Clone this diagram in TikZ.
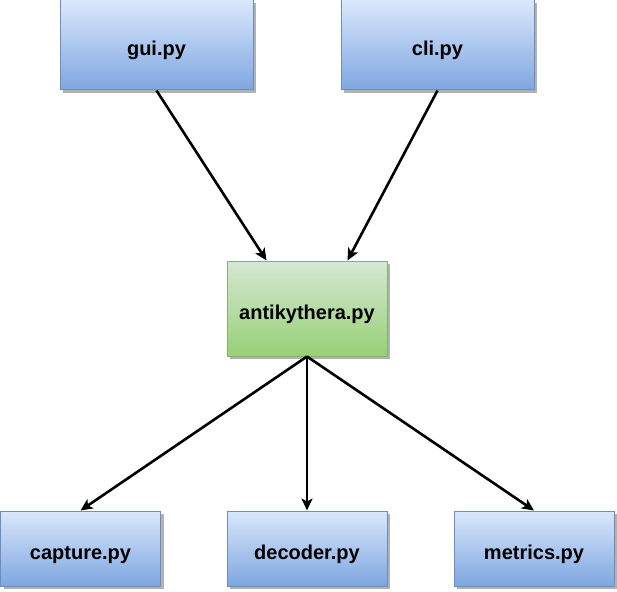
\documentclass[tikz,border=0pt]{standalone}
\usepackage{fontspec}
\setmainfont{Liberation Sans}
\usetikzlibrary{arrows.meta,shadows}

\definecolor{blueTop}{HTML}{DAE8FC}
\definecolor{blueBot}{HTML}{7EA6E0}
\definecolor{blueLine}{HTML}{6C8EBF}
\definecolor{greenTop}{HTML}{D5E8D4}
\definecolor{greenBot}{HTML}{97D077}
\definecolor{greenLine}{HTML}{82B366}

\begin{document}
\begin{tikzpicture}[>={Stealth[length=12pt, width=11pt, inset=3pt]}, x=1pt, y=-1pt]
			\tikzstyle{module} = [draw=blueLine, line width=1pt, top color=blueTop, bottom color=blueBot,
				inner sep=0pt, text height=21pt, text depth=0pt, font=\fontsize{20}{24}\selectfont\bfseries,
				drop shadow={shadow xshift=3pt, shadow yshift=-3pt, fill=black, opacity=0.3}]
			\tikzstyle{core} = [module, draw=greenLine, top color=greenTop, bottom color=greenBot]
			\tikzstyle{link} = [->, line width=2.6pt, black]

			\useasboundingbox (0,0) rectangle (617,591);

			% front ends
			\node[module, minimum width=193pt, minimum height=90pt] (gui) at (156.5,45) {gui.py};
			\node[module, minimum width=193pt, minimum height=90pt] (cli) at (437.5,45) {cli.py};

			% main module
			\node[core, minimum width=160pt, minimum height=95pt] (ak) at (307,308.5) {antikythera.py};

			% back ends
			\node[module, minimum width=160pt, minimum height=75pt] (cap) at (80.5,548.5) {capture.py};
			\node[module, minimum width=160pt, minimum height=75pt] (dec) at (307,548.5) {decoder.py};
			\node[module, minimum width=160pt, minimum height=75pt] (met) at (534,548.5) {metrics.py};

			\path
			(gui.south) edge[link] ([xshift=40pt]ak.north west)
			(cli.south) edge[link] ([xshift=-40pt]ak.north east)
			(ak.south) edge[link] (cap.north)
			(ak.south) edge[link] (dec.north)
			(ak.south) edge[link] (met.north)
			;
\end{tikzpicture}
\end{document}
